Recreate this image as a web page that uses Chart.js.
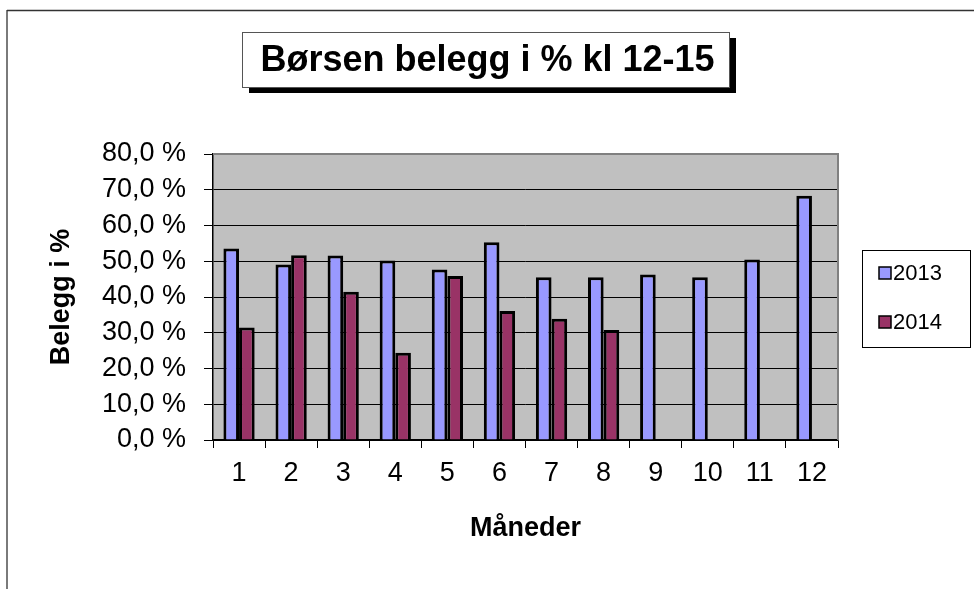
<!DOCTYPE html>
<html>
<head>
<meta charset="utf-8">
<style>
  html, body { margin: 0; padding: 0; background: #fff; }
  #wrap { width: 974px; height: 589px; position: relative; }
</style>
<script src="https://cdn.jsdelivr.net/npm/chart.js@4.4.0/dist/chart.umd.min.js"></script>
</head>
<body>
<div id="wrap"><canvas id="c" width="974" height="589"></canvas></div>
<script>
const chartTitle = 'Børsen belegg i % kl 12-15';
const months = ['1','2','3','4','5','6','7','8','9','10','11','12'];
const series2013 = [53.6, 49.1, 51.6, 50.2, 47.7, 55.3, 45.5, 45.5, 46.3, 45.5, 50.5, 68.3];
const series2014 = [31.5, 51.7, 41.5, 24.4, 45.9, 36.1, 33.9, 30.8, null, null, null, null];
const seriesNames = ['2013', '2014'];
const yTitle = 'Belegg i %';
const xTitle = 'Måneder';

const FONT = '"Liberation Sans", Arial, sans-serif';

const decorPlugin = {
  id: 'decor',
  beforeDraw(chart) {
    const ctx = chart.ctx;
    const a = chart.chartArea;
    ctx.save();
    ctx.fillStyle = '#fff';
    ctx.fillRect(0, 0, chart.width, chart.height);
    ctx.strokeStyle = '#7a7a7a';
    ctx.lineWidth = 2;
    ctx.beginPath(); ctx.moveTo(7, 10); ctx.lineTo(7, chart.height); ctx.stroke();
    ctx.strokeStyle = '#333';
    ctx.lineWidth = 1.5;
    ctx.beginPath(); ctx.moveTo(7, 10.5); ctx.lineTo(chart.width, 10.5); ctx.stroke();
    ctx.fillStyle = '#c0c0c0';
    ctx.fillRect(a.left, a.top, a.right - a.left, a.bottom - a.top);
    ctx.restore();
  },
  afterDatasetsDraw(chart) {
    const ctx = chart.ctx;
    const a = chart.chartArea;
    ctx.save();
    ctx.strokeStyle = '#808080';
    ctx.lineWidth = 2;
    ctx.beginPath();
    ctx.moveTo(a.left, a.top);
    ctx.lineTo(a.right, a.top);
    ctx.lineTo(a.right, a.bottom);
    ctx.stroke();

    // title box
    const bx = 242, by = 32, bw = 487, bh = 55;
    ctx.fillStyle = '#000';
    ctx.fillRect(bx + 7, by + 6, bw, bh);
    ctx.fillStyle = '#fff';
    ctx.fillRect(bx, by, bw, bh);
    ctx.strokeStyle = '#555';
    ctx.lineWidth = 1;
    ctx.strokeRect(bx + 0.5, by + 0.5, bw, bh);
    ctx.fillStyle = '#000';
    ctx.font = 'bold 36px ' + FONT;
    ctx.textAlign = 'center';
    ctx.textBaseline = 'middle';
    ctx.fillText(chartTitle, bx + bw / 2 + 2, by + bh / 2 + 2);

    // legend
    const lx = 862, ly = 250, lw = 108, lh = 97;
    ctx.fillStyle = '#fff';
    ctx.fillRect(lx, ly, lw, lh);
    ctx.strokeStyle = '#000';
    ctx.lineWidth = 1;
    ctx.strokeRect(lx + 0.5, ly + 0.5, lw, lh);
    ctx.font = '22px ' + FONT;
    ctx.textAlign = 'left';
    ctx.textBaseline = 'middle';
    const rows = [273, 322];
    chart.data.datasets.forEach((ds, i) => {
      const y = rows[i];
      ctx.fillStyle = ds.backgroundColor;
      ctx.fillRect(879, y - 6, 12, 12);
      ctx.strokeStyle = '#000';
      ctx.lineWidth = 1.5;
      ctx.strokeRect(879, y - 6, 12, 12);
      ctx.fillStyle = '#000';
      ctx.fillText(ds.label, 893, y + 1);
    });
    ctx.restore();
  }
};

new Chart(document.getElementById('c'), {
  type: 'bar',
  data: {
    labels: months,
    datasets: [
      { label: seriesNames[0], data: series2013, backgroundColor: '#9999ff', borderColor: '#000', borderWidth: 3 },
      { label: seriesNames[1], data: series2014, backgroundColor: '#993366', borderColor: '#000', borderWidth: 3 }
    ]
  },
  options: {
    responsive: false,
    animation: false,
    devicePixelRatio: 1,
    layout: { padding: { left: 0, top: 154, right: 136, bottom: 0 } },
    datasets: { bar: { categoryPercentage: 0.6, barPercentage: 1.0 } },
    plugins: {
      legend: { display: false },
      title: { display: false },
      tooltip: { enabled: false }
    },
    scales: {
      x: {
        afterFit(scale) { scale.height = 149; },
        grid: { display: true, drawOnChartArea: false, drawTicks: true, tickLength: 8, color: '#000', offset: true },
        border: { display: true, color: '#000', width: 1.5 },
        ticks: { color: '#000', font: { family: FONT, size: 27 }, padding: 9, maxRotation: 0, autoSkip: false },
        title: { display: true, text: xTitle, color: '#000', font: { family: FONT, size: 27, weight: 'bold' }, padding: { top: 0, bottom: 44 } }
      },
      y: {
        min: 0, max: 80,
        afterFit(scale) { scale.width = 213; },
        ticks: {
          stepSize: 10, color: '#000', padding: 18, autoSkip: false,
          font: { family: FONT, size: 27 },
          callback: (v) => v.toFixed(1).replace('.', ',') + ' %'
        },
        grid: { color: '#000', lineWidth: 1, tickLength: 9, drawTicks: true },
        border: { display: true, color: '#000', width: 1.5 },
        title: { display: true, text: yTitle, color: '#000', font: { family: FONT, size: 27, weight: 'bold' }, padding: { top: 45, bottom: 0 } }
      }
    }
  },
  plugins: [decorPlugin]
});
</script>
</body>
</html>
